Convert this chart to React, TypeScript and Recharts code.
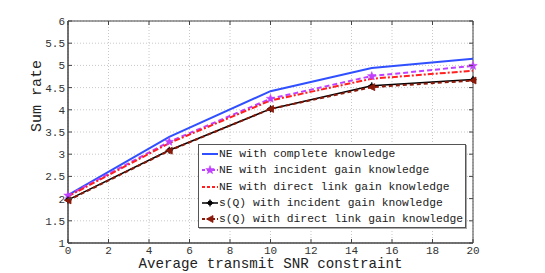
import React from 'react';
import { LineChart, Line, XAxis, YAxis, CartesianGrid, ReferenceArea } from 'recharts';

const snr = [0, 5, 10, 15, 20];
const neComplete = [2.08, 3.39, 4.42, 4.94, 5.15];
const neIncident = [2.07, 3.28, 4.25, 4.76, 4.99];
const neDirect = [2.05, 3.25, 4.21, 4.7, 4.88];
const sqIncident = [1.97, 3.09, 4.02, 4.54, 4.68];
const sqDirect = [1.96, 3.08, 4.02, 4.51, 4.66];

const xTicks = [0, 2, 4, 6, 8, 10, 12, 14, 16, 18, 20];
const yTicks = [1, 1.5, 2, 2.5, 3, 3.5, 4, 4.5, 5, 5.5, 6];

const FONT = "'Liberation Mono', 'DejaVu Sans Mono', monospace";

const chartData = snr.map((x, i) => ({
  snr: x,
  neComplete: neComplete[i],
  neIncident: neIncident[i],
  neDirect: neDirect[i],
  sqIncident: sqIncident[i],
  sqDirect: sqDirect[i],
}));

// marker shapes
function starPoints(cx: number, cy: number, r: number, inner = 0.42) {
  const pts: string[] = [];
  for (let k = 0; k < 10; k++) {
    const rad = k % 2 === 0 ? r : r * inner;
    const a = -Math.PI / 2 + (k * Math.PI) / 5;
    pts.push(`${cx + rad * Math.cos(a)},${cy + rad * Math.sin(a)}`);
  }
  return pts.join(' ');
}

const Marker = ({ kind, cx, cy, color }: { kind: string; cx: number; cy: number; color: string }) => {
  if (kind === 'star') return <polygon points={starPoints(cx, cy, 4.5)} fill={color} stroke={color} strokeWidth={0.5} />;
  if (kind === 'cross')
    return (
      <g stroke={color} strokeWidth={1.2}>
        <line x1={cx - 3.5} y1={cy} x2={cx + 3.5} y2={cy} />
        <line x1={cx} y1={cy - 3.5} x2={cx} y2={cy + 3.5} />
        <circle cx={cx} cy={cy} r={1.8} fill={color} />
      </g>
    );
  if (kind === 'tri')
    return <polygon points={`${cx - 3.5},${cy} ${cx + 3},${cy - 3.5} ${cx + 3},${cy + 3.5}`} fill={color} stroke={color} strokeWidth={0.8} />;
  return null;
};

const dotFor = (kind: string, color: string) => (props: any) => {
  const { cx, cy, index } = props;
  if (cx == null || cy == null) return <g key={index} />;
  return <Marker key={index} kind={kind} cx={cx} cy={cy} color={color} />;
};

// matlab-ish inward ticks
const XTick = (props: any) => {
  const { x, y, payload } = props;
  return (
    <g>
      <line x1={x} y1={y} x2={x} y2={y - 4} stroke="#444" />
      <line x1={x} y1={21} x2={x} y2={25} stroke="#444" />
      <text x={x} y={y + 3} dy="0.71em" textAnchor="middle" fontFamily={FONT} fontSize={11} fill="#333">
        {payload.value}
      </text>
    </g>
  );
};

const YTick = (props: any) => {
  const { x, y, payload } = props;
  return (
    <g>
      <line x1={x} y1={y} x2={x + 4} y2={y} stroke="#444" />
      <line x1={473} y1={y} x2={469} y2={y} stroke="#444" />
      <text x={x - 3} y={y} dy="0.355em" textAnchor="end" fontFamily={FONT} fontSize={11} fill="#333">
        {payload.value}
      </text>
    </g>
  );
};

const series = [
  { key: 'neComplete', name: 'NE with complete knowledge', color: '#3050ff', dash: undefined, width: 2, marker: '' },
  { key: 'neIncident', name: 'NE with incident gain knowledge', color: '#c040ff', dash: '5 3', width: 2, marker: 'star' },
  { key: 'neDirect', name: 'NE with direct link gain knowledge', color: '#ff2020', dash: '6 2 2 2', width: 2, marker: '' },
  { key: 'sqIncident', name: 's(Q) with incident gain knowledge', color: '#000000', dash: undefined, width: 1.5, marker: 'cross' },
  { key: 'sqDirect', name: 's(Q) with direct link gain knowledge', color: '#8b1a0a', dash: '4 3', width: 2, marker: 'tri' },
];

const LegendBox = () => (
  <div
    style={{
      position: 'absolute',
      left: 198,
      top: 144,
      width: 268,
      height: 84,
      boxSizing: 'border-box',
      background: '#fff',
      border: '1px solid #555',
      boxShadow: '1px 1px 0 #aaa',
      padding: '1px 0 0 2px',
      fontFamily: FONT,
      fontSize: 11.3,
      color: '#222',
      whiteSpace: 'nowrap',
    }}
  >
    {series.map((s) => (
      <div key={s.key} style={{ display: 'flex', alignItems: 'center', height: 16.3 }}>
        <svg width={18} height={12}>
          <line x1={1} y1={6} x2={17} y2={6} stroke={s.color} strokeWidth={s.width} strokeDasharray={s.dash ? '3 2' : undefined} />
          {s.marker && <Marker kind={s.marker} cx={9} cy={6} color={s.color} />}
        </svg>
        <span>{s.name}</span>
      </div>
    ))}
  </div>
);

export default function App() {
  return (
    <div style={{ position: 'absolute', left: 0, top: 0, width: 545, height: 273, background: '#fff' }}>
      <LineChart width={545} height={273} data={chartData} margin={{ top: 21, right: 72, bottom: 0, left: 0 }}>
        <CartesianGrid stroke="#c8c8c8" strokeDasharray="1 2" />
        <ReferenceArea x1={0} x2={20} y1={1} y2={6} fill="none" stroke="#444" strokeWidth={1} />
        <XAxis
          dataKey="snr"
          type="number"
          domain={[0, 20]}
          ticks={xTicks}
          interval={0}
          stroke="#444"
          tickLine={false}
          tickSize={0}
          tickMargin={0}
          tick={<XTick />}
          height={30}
          label={{ value: 'Average transmit SNR constraint', position: 'insideBottom', offset: 5, fontFamily: FONT, fontSize: 14.2, fill: '#222' }}
        />
        <YAxis
          type="number"
          domain={[1, 6]}
          ticks={yTicks}
          interval={0}
          stroke="#444"
          tickLine={false}
          tickSize={0}
          tickMargin={0}
          width={68}
          tick={<YTick />}
          label={{ value: 'Sum rate', angle: -90, position: 'insideLeft', offset: 36, fontFamily: FONT, fontSize: 15, fill: '#222' }}
        />
        {series.map((s) => (
          <Line
            key={s.key}
            dataKey={s.key}
            name={s.name}
            stroke={s.color}
            strokeWidth={s.width}
            strokeDasharray={s.dash}
            dot={s.marker ? dotFor(s.marker, s.color) : false}
            activeDot={false}
            isAnimationActive={false}
            type="linear"
          />
        ))}
      </LineChart>
      <LegendBox />
    </div>
  );
}
